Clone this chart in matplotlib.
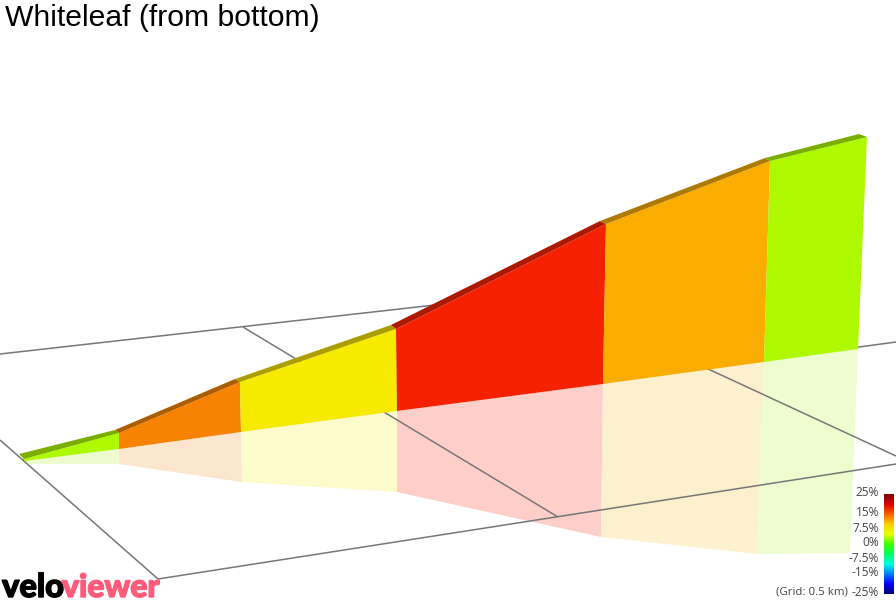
import numpy as np
import matplotlib
matplotlib.use("Agg")
import matplotlib.pyplot as plt
import matplotlib.patheffects as pe
from matplotlib.colors import LinearSegmentedColormap
from matplotlib.patches import Polygon

title = "Whiteleaf (from bottom)"
# projected profile, one entry per section boundary
rim_front_x = [24, 119, 240, 396, 606, 770, 867]
rim_front_y = [459, 433, 382, 329, 224, 161, 137]
rim_back_x = [19, 115, 235, 391, 600, 765, 859]
rim_back_y = [454, 430, 379, 325, 221, 158, 134]
base_x = [24, 119, 241, 397, 603, 764, 858]
base_y = [461, 449, 432, 411, 384, 362, 349]
shadow_x = [24, 119, 242, 397, 601, 757, 850]
shadow_y = [464, 464, 482, 492, 537, 554, 553]
section_colors = ["#aff900", "#f78300", "#f5ea00", "#f62100", "#f8ad00", "#aff900"]
rim_colors = ["#7aae00", "#ad5c00", "#ac9e00", "#ad1800", "#ae7900", "#7aae00"]
shadow_colors = ["#ecfccf", "#fce6ce", "#fdfacc", "#fdcfc8", "#fdf0cf", "#eefdcf"]

grid_x = [[0, 435], [23, 896], [158, 896], [0, 158], [243, 558], [706, 896]]
grid_y = [[354, 305], [460, 342], [579, 464], [440, 579], [327, 517], [368, 456]]

legend_labels = ["25%", "15%", "7.5%", "0%", "-7.5%", "-15%", "-25%"]
legend_y = [493, 512, 528, 543, 558, 573, 592]
cmap_colors = ["#7f0000", "#e00000", "#ff6000", "#ffd000", "#e8ff00", "#40ff00",
               "#00ff60", "#00ffe0", "#0080ff", "#0000ff", "#00007f"]

fig = plt.figure(figsize=(8.96, 6.01), dpi=100)
ax = fig.add_axes([0, 0, 1, 1])
ax.axis("off")

for i in range(6):
    ax.add_patch(Polygon([(base_x[i], base_y[i]), (base_x[i+1], base_y[i+1]),
                          (shadow_x[i+1], shadow_y[i+1]), (shadow_x[i], shadow_y[i])],
                         fc=shadow_colors[i], ec="none", zorder=1))
    ax.add_patch(Polygon([(rim_front_x[i], rim_front_y[i]), (rim_front_x[i+1], rim_front_y[i+1]),
                          (base_x[i+1], base_y[i+1]), (base_x[i], base_y[i])],
                         fc=section_colors[i], ec="none", zorder=3))
    ax.add_patch(Polygon([(rim_back_x[i], rim_back_y[i]), (rim_back_x[i+1], rim_back_y[i+1]),
                          (rim_front_x[i+1], rim_front_y[i+1]), (rim_front_x[i], rim_front_y[i])],
                         fc=rim_colors[i], ec="none", zorder=4))

for xs, ys in zip(grid_x, grid_y):
    ax.plot(xs, ys, color="#777777", lw=1.1, zorder=2, solid_capstyle="butt")

ax.text(5, 18.5, title, fontsize=21.7, family="Liberation Sans", color="black", va="center", ha="left")

cmap = LinearSegmentedColormap.from_list("grade", cmap_colors)
ax.imshow(np.linspace(0, 1, 200).reshape(-1, 1), cmap=cmap, extent=(884, 894, 594, 494),
          aspect="auto", zorder=5)
ax.set_xlim(0, 896)
ax.set_ylim(601, 0)
for lab, y in zip(legend_labels, legend_y):
    ax.text(879, y, lab, fontsize=8.6, family="Open Sans", color="#444444", ha="right", va="center")
ax.text(848, 592, "(Grid: 0.5 km)", fontsize=8.2, family="Open Sans", color="#444444", ha="right", va="center")

ax.text(2, 597, "velo", fontsize=23.5, family="Lato", weight="black", color="black", va="baseline", ha="left",
        path_effects=[pe.withStroke(linewidth=1.0, foreground="black")])
ax.text(62, 597, "viewer", fontsize=23, family="Lato", weight="black", color="#ff5c7c", va="baseline", ha="left",
        path_effects=[pe.withStroke(linewidth=1.0, foreground="#ff5c7c")])

fig.savefig("out.png", dpi=100)
